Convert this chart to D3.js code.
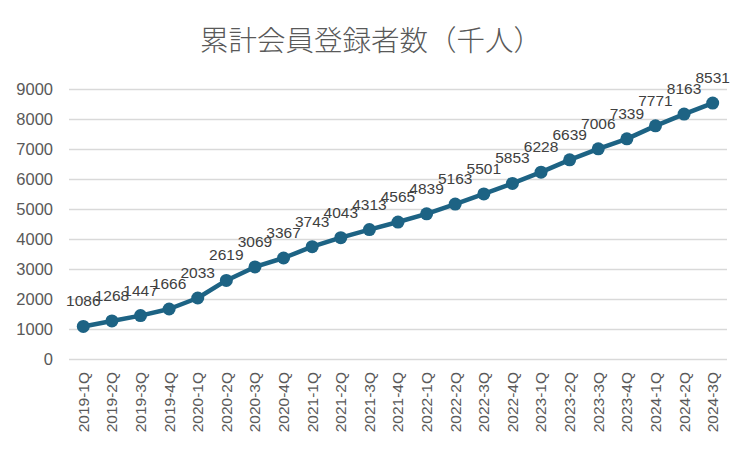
<!DOCTYPE html>
<html>
<head>
<meta charset="utf-8">
<script src="https://cdn.jsdelivr.net/npm/d3@7"></script>
<style>
  body { margin: 0; background: #fff; }
  svg { display: block; }
  text { font-family: "Liberation Sans", Arial, sans-serif; fill: #595959; }
</style>
</head>
<body>
<svg id="chart"></svg>
<script>
const quarters = ['2019-1Q', '2019-2Q', '2019-3Q', '2019-4Q', '2020-1Q', '2020-2Q', '2020-3Q', '2020-4Q',
  '2021-1Q', '2021-2Q', '2021-3Q', '2021-4Q', '2022-1Q', '2022-2Q', '2022-3Q', '2022-4Q',
  '2023-1Q', '2023-2Q', '2023-3Q', '2023-4Q', '2024-1Q', '2024-2Q', '2024-3Q'];
const members = [1086, 1268, 1447, 1666, 2033, 2619, 3069, 3367,
  3743, 4043, 4313, 4565, 4839, 5163, 5501, 5853,
  6228, 6639, 7006, 7339, 7771, 8163, 8531];
const yTicks = [0, 1000, 2000, 3000, 4000, 5000, 6000, 7000, 8000, 9000];
const title = '累計会員登録者数（千人）';

const width = 750;
const height = 450;
const margin = { top: 89, right: 23, bottom: 91, left: 69 };
const innerWidth = width - margin.left - margin.right;
const innerHeight = height - margin.top - margin.bottom;
const lineColor = '#1d6384';

const svg = d3.select('#chart')
  .attr('width', width)
  .attr('height', height);

svg.append('text')
  .attr('x', width / 2 - 4)
  .attr('y', 51)
  .attr('text-anchor', 'middle')
  .style('font-family', '"Noto Sans CJK JP", sans-serif')
  .style('font-size', '28.5px')
  .style('font-weight', 300)
  .text(title);

const g = svg.append('g')
  .attr('transform', `translate(${margin.left}, ${margin.top})`);

const xScale = d3.scaleBand().domain(quarters).range([0, innerWidth]);
const yScale = d3.scaleLinear().domain([0, 9000]).range([innerHeight, 0]);
const cx = d => xScale(d) + xScale.bandwidth() / 2;

// gridlines + y labels
const yAxis = g.append('g')
  .attr('class', 'axis axis--y')
  .call(d3.axisLeft(yScale).tickValues(yTicks).tickFormat(d3.format('d'))
    .tickSize(-innerWidth).tickPadding(16));
yAxis.select('.domain').remove();
yAxis.selectAll('line').attr('stroke', '#d9d9d9').attr('stroke-width', 1.3);
yAxis.selectAll('text').style('font-size', '16.5px').style('fill', '#595959');

// x labels, rotated
const xAxis = g.append('g')
  .attr('class', 'axis axis--x')
  .attr('transform', `translate(0, ${innerHeight})`)
  .call(d3.axisBottom(xScale).tickSize(0).tickSizeOuter(0));
xAxis.select('.domain').remove();
xAxis.selectAll('text')
  .style('font-size', '15.5px')
  .style('fill', '#595959')
  .attr('text-anchor', 'end')
  .attr('transform', 'translate(0, 13) rotate(-90)')
  .attr('x', 0)
  .attr('y', 0)
  .attr('dy', '0.35em');

const line = d3.line()
  .x((d, i) => cx(quarters[i]))
  .y(d => yScale(d));

g.append('path')
  .datum(members)
  .attr('fill', 'none')
  .attr('stroke', lineColor)
  .attr('stroke-width', 4.5)
  .attr('stroke-linejoin', 'round')
  .attr('d', line);

g.selectAll('.dot')
  .data(members)
  .enter().append('circle')
    .attr('class', 'dot')
    .attr('cx', (d, i) => cx(quarters[i]))
    .attr('cy', d => yScale(d))
    .attr('r', 6.5)
    .attr('fill', lineColor);

g.selectAll('.label')
  .data(members)
  .enter().append('text')
    .attr('class', 'label')
    .attr('x', (d, i) => cx(quarters[i]))
    .attr('y', d => yScale(d) - 20)
    .attr('text-anchor', 'middle')
    .style('font-size', '15.5px')
    .style('fill', '#404040')
    .text(d => d);
</script>
</body>
</html>
